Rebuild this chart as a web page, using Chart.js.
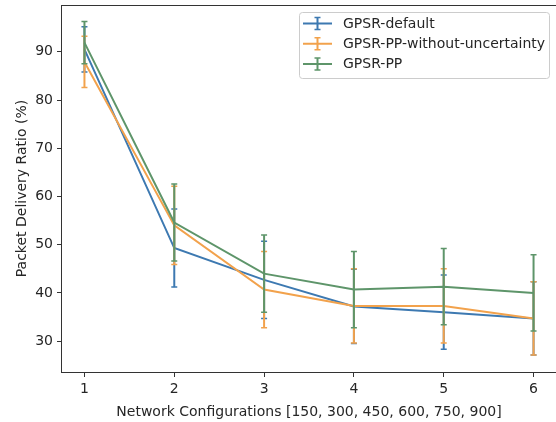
<!DOCTYPE html>
<html>
<head>
<meta charset="utf-8">
<script src="https://cdn.jsdelivr.net/npm/chart.js@4.4.0/dist/chart.umd.min.js"></script>
<style>
  body { margin: 0; background: #fff; }
</style>
</head>
<body>
<canvas id="myChart" width="556" height="422"></canvas>
<script>
// Datos
const configuraciones = [1, 2, 3, 4, 5, 6];  // eje X
const ticksX = [1, 2, 3, 4, 5, 6];
const ticksY = [30, 40, 50, 60, 70, 80, 90];

const gpsrDefault = [90.5, 49.3, 42.7, 37.2, 36.0, 34.7];
const gpsrDefaultErr = [4.7, 8.1, 8.0, 7.7, 7.7, 7.6];

const gpsrSinIncertidumbre = [87.9, 54.0, 40.7, 37.3, 37.3, 34.7];
const gpsrSinIncertidumbreErr = [5.3, 8.1, 7.9, 7.7, 7.7, 7.6];

const gpsrPP = [91.9, 54.6, 44.0, 40.7, 41.3, 40.0];
const gpsrPPErr = [4.4, 8.0, 8.0, 7.9, 7.9, 7.9];

const fuente = 'DejaVu Sans';
const colorTexto = '#262626';
const colorEje = '#333333';

// arma los puntos {x, y} para la escala lineal
const puntos = (valores) => configuraciones.map((c, i) => ({ x: c, y: valores[i] }));

const series = [
  { label: 'GPSR-default', data: gpsrDefault, err: gpsrDefaultErr, color: '#3d79b1' },
  { label: 'GPSR-PP-without-uncertainty', data: gpsrSinIncertidumbre, err: gpsrSinIncertidumbreErr, color: '#f2a24c' },
  { label: 'GPSR-PP', data: gpsrPP, err: gpsrPPErr, color: '#5e956a' }
];

// Plugin de barras de error: se dibuja después de cada serie
const barrasError = {
  id: 'barrasError',
  afterDatasetDraw(chart, args) {
    const serie = series[args.index];
    const ctx = chart.ctx;
    const x = chart.scales.x;
    const y = chart.scales.y;
    ctx.save();
    ctx.strokeStyle = serie.color;
    serie.data.forEach((v, i) => {
      const px = x.getPixelForValue(configuraciones[i]);
      const arriba = y.getPixelForValue(v + serie.err[i]);
      const abajo = y.getPixelForValue(v - serie.err[i]);
      ctx.lineWidth = 2;
      ctx.beginPath();
      ctx.moveTo(px, arriba);
      ctx.lineTo(px, abajo);
      ctx.stroke();
      ctx.lineWidth = 1.5;  // tapas
      ctx.beginPath();
      ctx.moveTo(px - 3, arriba);
      ctx.lineTo(px + 3, arriba);
      ctx.moveTo(px - 3, abajo);
      ctx.lineTo(px + 3, abajo);
      ctx.stroke();
    });
    ctx.restore();
  }
};

// Marco completo + leyenda dentro del área
const marcoYLeyenda = {
  id: 'marcoYLeyenda',
  afterDraw(chart) {
    const ctx = chart.ctx;
    const a = chart.chartArea;
    ctx.save();
    ctx.strokeStyle = colorEje;
    ctx.lineWidth = 1;
    ctx.strokeRect(a.left - 0.5, a.top + 0.5, a.right - a.left + 1, a.bottom - a.top);

    // caja de la leyenda
    const lx = 299, ly = 12.5, lw = 250, lh = 66;
    ctx.fillStyle = 'rgba(255,255,255,0.8)';
    ctx.strokeStyle = '#cccccc';
    ctx.beginPath();
    ctx.roundRect(lx + 0.5, ly, lw, lh, 3);
    ctx.fill();
    ctx.stroke();

    ctx.font = '14px "' + fuente + '"';
    ctx.textBaseline = 'middle';
    series.forEach((s, i) => {
      const fy = 23.5 + i * 20.3;
      ctx.strokeStyle = s.color;
      ctx.lineWidth = 2;
      ctx.beginPath();
      ctx.moveTo(303, fy);
      ctx.lineTo(332, fy);
      ctx.moveTo(317.5, fy - 6);
      ctx.lineTo(317.5, fy + 6);
      ctx.stroke();
      ctx.lineWidth = 1.5;
      ctx.beginPath();
      ctx.moveTo(314.5, fy - 6);
      ctx.lineTo(320.5, fy - 6);
      ctx.moveTo(314.5, fy + 6);
      ctx.lineTo(320.5, fy + 6);
      ctx.stroke();
      ctx.fillStyle = colorTexto;
      ctx.fillText(s.label, 343, fy + 0.5);
    });
    ctx.restore();
  }
};

const ctx = document.getElementById('myChart');

new Chart(ctx, {
  type: 'line',
  data: {
    datasets: series.map((s, i) => ({
      label: s.label,
      data: puntos(s.data),
      borderColor: s.color,
      backgroundColor: s.color,
      borderWidth: 2,
      pointRadius: 0,
      tension: 0,
      order: series.length - i  // verde encima, como en la figura
    }))
  },
  options: {
    responsive: false,
    animation: false,
    layout: { padding: { top: 5, right: 0, left: 0, bottom: 0 } },
    plugins: {
      legend: { display: false },
      tooltip: { enabled: false }
    },
    scales: {
      x: {
        type: 'linear',
        min: 0.75,
        max: 6.25,
        afterBuildTicks: (scale) => { scale.ticks = ticksX.map((v) => ({ value: v })); },
        afterFit: (scale) => {
          scale.height = 50;
          scale.paddingLeft = 0;
          scale.paddingRight = 0;
        },
        grid: { drawOnChartArea: false, drawTicks: true, tickLength: 5, tickColor: colorEje, color: colorEje },
        border: { display: false },
        ticks: { color: colorTexto, padding: 4, font: { family: fuente, size: 14 }, maxRotation: 0 },
        title: {
          display: true,
          text: 'Network Configurations [150, 300, 450, 600, 750, 900]',
          color: colorTexto,
          font: { family: fuente, size: 14 },
          padding: { top: 0, bottom: 1.5 }
        }
      },
      y: {
        type: 'linear',
        min: 23.6,
        max: 99.7,
        afterBuildTicks: (scale) => { scale.ticks = ticksY.map((v) => ({ value: v })); },
        afterFit: (scale) => {
          scale.width = 62;
          scale.paddingTop = 0;  // sin margen extra arriba/abajo
          scale.paddingBottom = 0;
        },
        grid: { drawOnChartArea: false, drawTicks: true, tickLength: 5, tickColor: colorEje, color: colorEje },
        border: { display: false },
        ticks: { color: colorTexto, padding: 4, font: { family: fuente, size: 14 } },
        title: {
          display: true,
          text: 'Packet Delivery Ratio (%)',
          color: colorTexto,
          font: { family: fuente, size: 14 },
          padding: { top: 13.5, bottom: 0 }
        }
      }
    }
  },
  plugins: [barrasError, marcoYLeyenda]
});
</script>
</body>
</html>
